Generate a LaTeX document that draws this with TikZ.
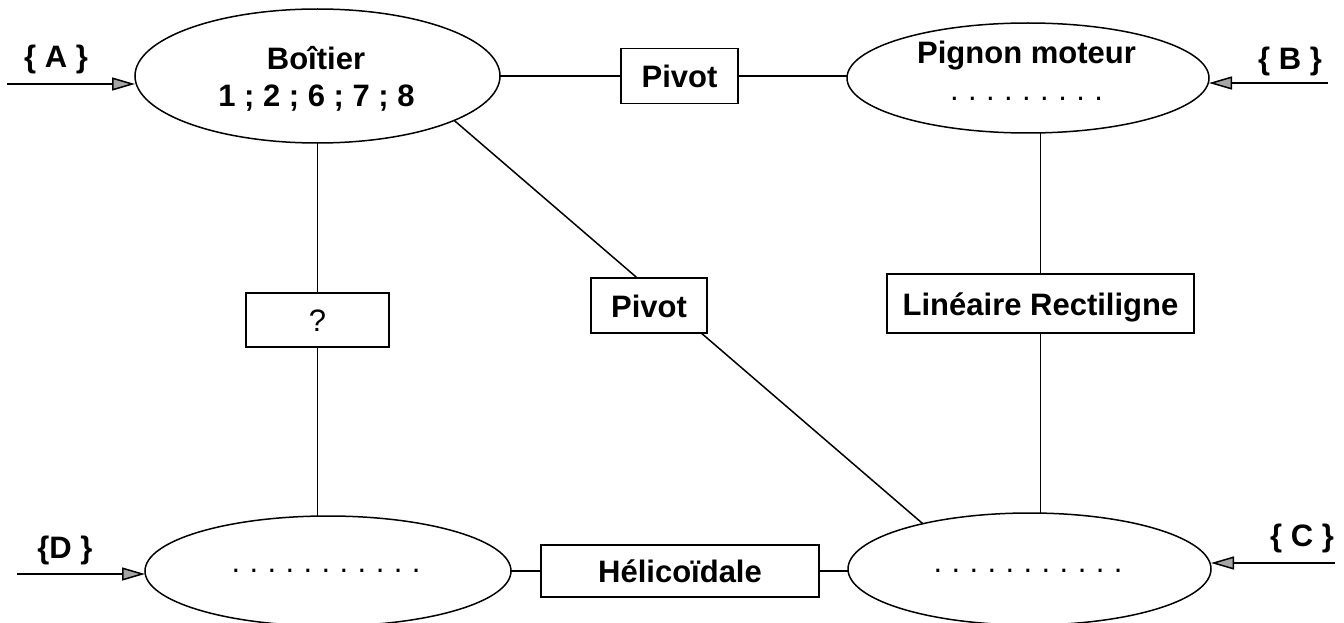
\documentclass[tikz,border=0pt]{standalone}
\usepackage{fontspec}
\setmainfont{Liberation Sans}
\usetikzlibrary{shapes.geometric,arrows.meta}
\newcommand{\bigbf}{\fontsize{31}{36}\selectfont\bfseries}
\newcommand{\bigrm}{\fontsize{31}{36}\selectfont}
\newcommand{\dotrow}[1]{\foreach \i in {2,...,#1}{.\hspace{9.4pt}}.}
\begin{document}
\begin{tikzpicture}[x=1pt,y=-1pt,
  every node/.style={inner sep=0pt, outer sep=0pt},
  lw/.style={line width=1.5pt},
  ell/.style={ellipse, draw, lw, inner sep=0pt},
  jbox/.style={draw, lw, fill=white, text height=23pt, text depth=0pt, font=\bigbf},
  txt/.style={font=\bigbf, anchor=base},
  arr/.style={lw, -{Triangle[length=23pt,width=13pt,fill=gray!70]}},
]
\fill[white] (0,0) rectangle (1344,623);
\clip (0,0) rectangle (1344,623);

% ellipses
\node[ell, minimum width=365pt, minimum height=134pt] (boitier) at (317.5,76) {};
\node[txt] (boitierT1) at (316,70) {Boîtier};
\node[txt] (boitierT2) at (316.5,107) {1 ; 2 ; 6 ; 7 ; 8};
\node[ell, minimum width=362pt, minimum height=110pt] (pignon) at (1028,78) {};
\node[txt] (pignonT) at (1026.5,64) {Pignon moteur};
\node[txt, font=\bigrm] (pignonD) at (1026.5,101) {\dotrow{9}};
\node[ell, minimum width=366pt, minimum height=110pt] (dnode) at (328,571) {};
\node[txt, font=\bigrm] (dD) at (326,572) {\dotrow{11}};
\node[ell, minimum width=363pt, minimum height=112pt] (cnode) at (1029.5,569) {};
\node[txt, font=\bigrm] (cD) at (1028,572) {\dotrow{11}};

% joint boxes
\node[jbox, minimum width=117pt, minimum height=55pt] (piv1) at (679.5,76) {Pivot};
\node[jbox, minimum width=143pt, minimum height=54pt, font=\bigrm] (qbox) at (317.5,320) {?};
\node[jbox, minimum width=307pt, minimum height=59pt] (lin) at (1040.5,303.5) {Linéaire Rectiligne};
\node[jbox, minimum width=278pt, minimum height=52pt] (heli) at (680,571) {Hélicoïdale};

% connectors
\draw[lw] (boitier.east) -- (piv1.west);
\draw[lw] (piv1.east) -- (piv1.east -| pignon.west);
\draw[lw] (boitier.south) -- (qbox.north);
\draw[lw] (qbox.south) -- (qbox.south |- dnode.north);
\draw[lw] (lin.north |- pignon.south) -- (lin.north);
\draw[lw] (lin.south) -- (lin.south |- cnode.north);
\draw[lw] (dnode.east) -- (heli.west);
\draw[lw] (heli.east) -- (heli.east -| cnode.west);
\draw[lw] (boitier.-18.5) -- (cnode.157.7);
\node[jbox, minimum width=116pt, minimum height=55pt] (piv2) at (649,305.5) {Pivot};

% inputs
\node[txt] (labA) at (56,68) {\{ A \}};
\coordinate (aIn) at (7,84);
\draw[arr] (aIn) -- (aIn -| boitier.west);
\node[txt] (labB) at (1290,70) {\{ B \}};
\coordinate (bIn) at (1328,83);
\draw[arr] (bIn) -- (bIn -| pignon.east);
\node[txt] (labC) at (1302,546) {\{ C \}};
\coordinate (cIn) at (1335,563);
\draw[arr] (cIn) -- (cIn -| cnode.east);
\node[txt] (labD) at (65,558) {\{D \}};
\coordinate (dIn) at (17,574);
\draw[arr] (dIn) -- (dIn -| dnode.west);
\end{tikzpicture}
\end{document}
